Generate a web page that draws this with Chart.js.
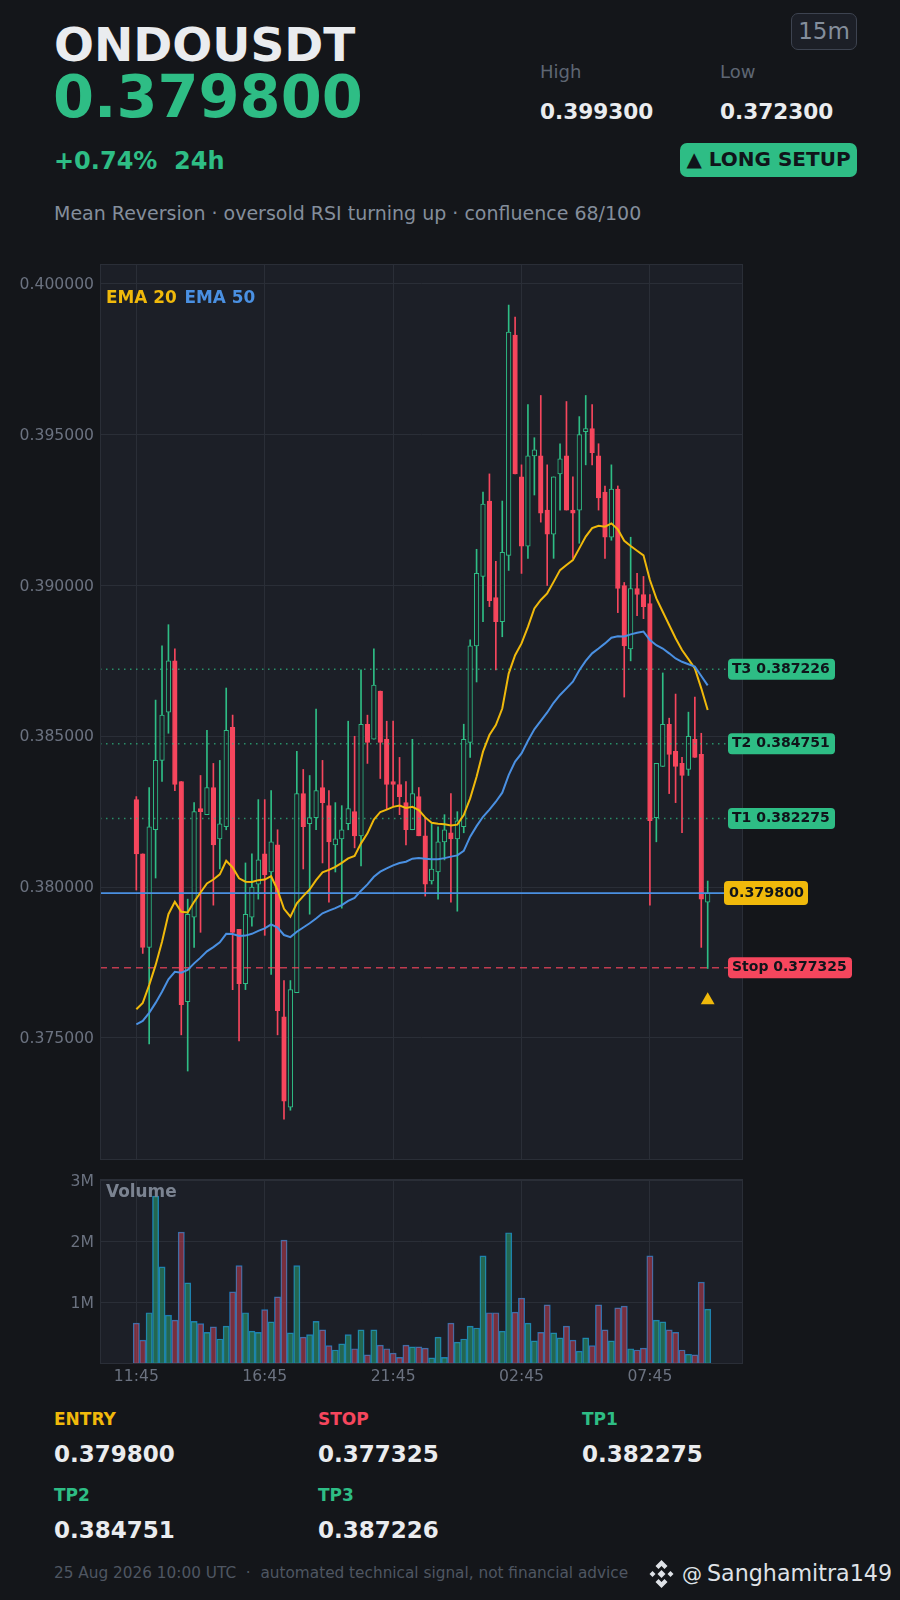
<!DOCTYPE html>
<html>
<head>
<meta charset="utf-8">
<title>ONDOUSDT</title>
<script src="https://cdn.jsdelivr.net/npm/chart.js@4"></script>
<style>
html, body { margin: 0; padding: 0; background: #14161a; }
body { width: 900px; height: 1600px; position: relative; overflow: hidden; font-family: "DejaVu Sans", sans-serif; }
.t { position: absolute; white-space: pre; line-height: 1; }
.b { font-weight: bold; }
canvas { position: absolute; left: 0; }
</style>
</head>
<body>

<div class="t b" style="left:54px;top:21px;font-size:47px;color:#eaecef">ONDOUSDT</div>
<div class="t b" style="left:53px;top:67px;font-size:59px;color:#2ebd85">0.379800</div>
<div class="t" style="left:540px;top:63px;font-size:18px;color:#5e6673">High</div>
<div class="t" style="left:720px;top:63px;font-size:18px;color:#5e6673">Low</div>
<div class="t b" style="left:540px;top:101px;font-size:21.6px;color:#eaecef">0.399300</div>
<div class="t b" style="left:720px;top:101px;font-size:21.6px;color:#eaecef">0.372300</div>
<div class="t b" style="left:54px;top:149px;font-size:24px;color:#2ebd85">+0.74%  24h</div>
<div class="t" style="left:54px;top:204px;font-size:19px;color:#848e9c">Mean Reversion · oversold RSI turning up · confluence 68/100</div>

<div class="t" style="left:791px;top:13px;width:64px;height:35px;line-height:35px;text-align:center;font-size:23px;color:#848e9c;background:#1c1f27;border:1px solid #3d4350;border-radius:7px">15m</div>
<div class="t b" style="left:680px;top:143px;width:177px;height:34px;line-height:32px;text-align:center;font-size:20px;color:#10141a;background:#2ebd85;border-radius:7px">▲ LONG SETUP</div>

<canvas id="priceChart" width="900" height="920" style="top:250px;width:900px;height:920px"></canvas>
<canvas id="volumeChart" width="900" height="230" style="top:1170px;width:900px;height:230px"></canvas>

<div class="t b" style="left:54px;top:1411px;font-size:17px;color:#f0b90b">ENTRY</div>
<div class="t b" style="left:54px;top:1443px;font-size:23px;color:#eaecef">0.379800</div>
<div class="t b" style="left:318px;top:1411px;font-size:17px;color:#f6465d">STOP</div>
<div class="t b" style="left:318px;top:1443px;font-size:23px;color:#eaecef">0.377325</div>
<div class="t b" style="left:582px;top:1411px;font-size:17px;color:#2ebd85">TP1</div>
<div class="t b" style="left:582px;top:1443px;font-size:23px;color:#eaecef">0.382275</div>
<div class="t b" style="left:54px;top:1487px;font-size:17px;color:#2ebd85">TP2</div>
<div class="t b" style="left:54px;top:1519px;font-size:23px;color:#eaecef">0.384751</div>
<div class="t b" style="left:318px;top:1487px;font-size:17px;color:#2ebd85">TP3</div>
<div class="t b" style="left:318px;top:1519px;font-size:23px;color:#eaecef">0.387226</div>

<div class="t" style="left:54px;top:1566px;font-size:15.3px;color:#4f5662">25 Aug 2026 10:00 UTC  ·  automated technical signal, not financial advice</div>
<svg style="position:absolute;left:649px;top:1560px" width="25" height="28" viewBox="0 0 24 28">
  <g fill="#dfe2e7">
    <polygon points="12,0 18,6 15,9 12,6 9,9 6,6"/>
    <polygon points="12,28 18,22 15,19 12,22 9,19 6,22"/>
    <polygon points="3,11 6,14 3,17 0,14"/>
    <polygon points="21,11 24,14 21,17 18,14"/>
    <polygon points="12,10 16,14 12,18 8,14"/>
  </g>
</svg>
<div class="t" style="left:682px;top:1564px;font-size:20px;color:#dfe2e7">@</div>
<div class="t" style="left:707px;top:1562px;font-size:22.2px;color:#dfe2e7">Sanghamitra149</div>

<script>
const opens = [0.3829,0.3811,0.3780,0.3819,0.3842,0.3858,0.3875,0.3835,0.3762,0.3790,
    0.3826,0.3824,0.3833,0.3816,0.3820,0.3853,0.3786,0.3768,0.3790,0.3801,
    0.3811,0.3805,0.3814,0.3757,0.3727,0.3765,0.3831,0.3821,0.3823,0.3833,
    0.3827,0.3814,0.3816,0.3821,0.3825,0.3817,0.3854,0.3849,0.3865,0.3849,
    0.3835,0.3834,0.3828,0.3819,0.3830,0.3817,0.3802,0.3805,0.3815,0.3818,
    0.3816,0.3820,0.3848,0.3880,0.3903,0.3928,0.3896,0.3888,0.3910,0.3983,
    0.3936,0.3913,0.3943,0.3943,0.3925,0.3917,0.3937,0.3943,0.3925,0.3925,
    0.3951,0.3952,0.3943,0.3931,0.3916,0.3932,0.3900,0.3879,0.3899,0.3897,
    0.3894,0.3823,0.3840,0.3854,0.3845,0.3841,0.3839,0.3849,0.3844,0.3795];
const highs = [0.3830,0.3811,0.3833,0.3862,0.3880,0.3887,0.3879,0.3835,0.3796,0.3828,
    0.3837,0.3852,0.3841,0.3842,0.3866,0.3857,0.3786,0.3808,0.3811,0.3829,
    0.3829,0.3832,0.3819,0.3769,0.3769,0.3845,0.3839,0.3837,0.3859,0.3842,
    0.3832,0.3828,0.3827,0.3855,0.3850,0.3872,0.3857,0.3879,0.3865,0.3855,
    0.3855,0.3843,0.3835,0.3849,0.3833,0.3823,0.3821,0.3820,0.3824,0.3831,
    0.3825,0.3854,0.3882,0.3912,0.3931,0.3937,0.3908,0.3928,0.3993,0.3989,
    0.3940,0.3960,0.3949,0.3963,0.3940,0.3936,0.3947,0.3961,0.3936,0.3956,
    0.3963,0.3960,0.3947,0.3933,0.3940,0.3933,0.3901,0.3916,0.3904,0.3903,
    0.3897,0.3841,0.3871,0.3856,0.3864,0.3843,0.3858,0.3863,0.3851,0.3802];
const lows = [0.3799,0.3778,0.3748,0.3803,0.3835,0.3851,0.3832,0.3751,0.3739,0.3780,
    0.3785,0.3824,0.3794,0.3806,0.3819,0.3766,0.3749,0.3766,0.3787,0.3796,
    0.3784,0.3771,0.3751,0.3723,0.3726,0.3765,0.3806,0.3791,0.3819,0.3808,
    0.3795,0.3805,0.3793,0.3819,0.3813,0.3807,0.3841,0.3849,0.3836,0.3826,
    0.3827,0.3824,0.3814,0.3819,0.3817,0.3797,0.3801,0.3796,0.3809,0.3795,
    0.3792,0.3818,0.3843,0.3868,0.3888,0.3893,0.3872,0.3883,0.3905,0.3937,
    0.3904,0.3909,0.3930,0.3921,0.3900,0.3909,0.3925,0.3925,0.3909,0.3914,
    0.3940,0.3940,0.3925,0.3909,0.3915,0.3891,0.3863,0.3875,0.3890,0.3889,
    0.3794,0.3815,0.3840,0.3831,0.3828,0.3818,0.3837,0.3843,0.3780,0.3773];
const closes = [0.3811,0.3780,0.3820,0.3842,0.3857,0.3875,0.3834,0.3761,0.3791,0.3825,
    0.3825,0.3833,0.3814,0.3821,0.3852,0.3785,0.3768,0.3791,0.3800,0.3809,
    0.3804,0.3815,0.3759,0.3729,0.3766,0.3831,0.3820,0.3823,0.3832,0.3828,
    0.3815,0.3816,0.3819,0.3826,0.3817,0.3854,0.3848,0.3867,0.3848,0.3834,
    0.3834,0.3830,0.3819,0.3831,0.3817,0.3801,0.3806,0.3815,0.3819,0.3816,
    0.3822,0.3849,0.3880,0.3904,0.3927,0.3895,0.3888,0.3911,0.3984,0.3937,
    0.3913,0.3943,0.3945,0.3924,0.3917,0.3936,0.3942,0.3925,0.3924,0.3950,
    0.3952,0.3944,0.3929,0.3916,0.3932,0.3899,0.3880,0.3899,0.3897,0.3893,
    0.3822,0.3841,0.3854,0.3844,0.3840,0.3837,0.3850,0.3843,0.3796,0.3798];
const ema20 = [0.37595,0.37616,0.37675,0.37741,0.37819,0.37910,0.37951,0.37918,0.37916,0.37951,
    0.37982,0.38012,0.38025,0.38042,0.38087,0.38065,0.38029,0.38018,0.38017,0.38023,
    0.38025,0.38036,0.37990,0.37928,0.37902,0.37946,0.37970,0.37992,0.38023,0.38049,
    0.38057,0.38067,0.38080,0.38095,0.38103,0.38145,0.38178,0.38224,0.38249,0.38257,
    0.38266,0.38270,0.38262,0.38266,0.38255,0.38231,0.38213,0.38210,0.38208,0.38204,
    0.38207,0.38239,0.38294,0.38366,0.38449,0.38504,0.38537,0.38592,0.38708,0.38769,
    0.38808,0.38863,0.38924,0.38952,0.38974,0.39012,0.39051,0.39068,0.39084,0.39123,
    0.39162,0.39190,0.39198,0.39195,0.39206,0.39186,0.39148,0.39131,0.39115,0.39100,
    0.39018,0.38957,0.38913,0.38869,0.38825,0.38786,0.38756,0.38725,0.38659,0.38587];
const ema50 = [0.37545,0.37556,0.37583,0.37616,0.37653,0.37694,0.37719,0.37716,0.37725,0.37747,
    0.37766,0.37787,0.37801,0.37817,0.37845,0.37844,0.37838,0.37839,0.37845,0.37855,
    0.37863,0.37876,0.37866,0.37841,0.37834,0.37852,0.37866,0.37880,0.37896,0.37913,
    0.37922,0.37930,0.37940,0.37954,0.37964,0.37988,0.38009,0.38034,0.38051,0.38062,
    0.38072,0.38080,0.38084,0.38094,0.38096,0.38094,0.38092,0.38092,0.38096,0.38101,
    0.38105,0.38120,0.38167,0.38202,0.38233,0.38257,0.38283,0.38313,0.38371,0.38416,
    0.38443,0.38485,0.38523,0.38551,0.38579,0.38611,0.38637,0.38659,0.38681,0.38719,
    0.38750,0.38775,0.38791,0.38808,0.38827,0.38832,0.38831,0.38838,0.38843,0.38847,
    0.38819,0.38802,0.38791,0.38775,0.38758,0.38747,0.38739,0.38731,0.38700,0.38669];
const volumes = [0.67,0.39,0.84,2.75,1.59,0.80,0.72,2.16,1.33,0.70,
    0.66,0.52,0.61,0.41,0.62,1.18,1.61,0.84,0.54,0.52,
    0.89,0.69,1.10,2.03,0.51,1.61,0.44,0.48,0.70,0.56,
    0.30,0.23,0.33,0.48,0.25,0.56,0.15,0.56,0.31,0.25,
    0.18,0.11,0.31,0.28,0.28,0.26,0.10,0.44,0.11,0.67,
    0.36,0.41,0.62,0.59,1.77,0.84,0.84,0.54,2.15,0.85,
    1.08,0.67,0.38,0.52,0.97,0.51,0.43,0.62,0.39,0.21,
    0.43,0.30,0.97,0.56,0.38,0.92,0.95,0.25,0.23,0.26,
    1.77,0.72,0.69,0.56,0.52,0.23,0.16,0.15,1.34,0.90];

const timeLabels = ["11:45", "16:45", "21:45", "02:45", "07:45"];
const timeIndex = [0, 20, 40, 60, 80];
const priceTicks = [0.375, 0.38, 0.385, 0.39, 0.395, 0.4];
const volumeTicks = [1, 2, 3];

const entry = 0.3798;
const stop = 0.377325;
const targets = [0.382275, 0.384751, 0.387226];
const targetNames = ["T1", "T2", "T3"];
const signalIndex = 89;
const signalPrice = 0.37625;

const xMin = -5.66;
const xMax = 94.5;

const GREEN = "#2ebd85";
const RED = "#f6465d";
const YELLOW = "#f0b90b";
const BLUE = "#4a90e2";
const GRID = "#2a2e37";
const PANEL = "#1c1f27";
const FONT = '"DejaVu Sans", sans-serif';

const index = opens.map((v, i) => i);
const isUp = i => closes[i] >= opens[i];

function levelLine(value, color, dash, width) {
    return {
        type: "line",
        data: [{ x: xMin, y: value }, { x: xMax, y: value }],
        borderColor: color,
        borderWidth: width,
        borderDash: dash,
        pointRadius: 0,
        order: 3
    };
}

function xAxis(showLabels) {
    return {
        type: "linear",
        min: xMin,
        max: xMax,
        offset: false,
        afterBuildTicks: axis => { axis.ticks = timeIndex.map(v => ({ value: v })); },
        afterFit: axis => {
            axis.height = showLabels ? 36 : 10;
            axis.paddingLeft = 0;
            axis.paddingRight = 0;
        },
        grid: { color: GRID, drawTicks: false, offset: false },
        border: { display: false },
        ticks: {
            display: showLabels,
            color: "#6b7280",
            padding: 4,
            maxRotation: 0,
            font: { family: FONT, size: 15.6 },
            callback: v => timeLabels[timeIndex.indexOf(v)]
        }
    };
}

function yAxis(min, max, values, format) {
    return {
        min: min,
        max: max,
        afterBuildTicks: axis => { axis.ticks = values.map(v => ({ value: v })); },
        afterFit: axis => {
            axis.width = 100;
            axis.paddingTop = 0;
            axis.paddingBottom = 0;
        },
        grid: { color: GRID, drawTicks: false },
        border: { display: false },
        ticks: {
            color: "#6b7280",
            padding: 6,
            labelOffset: 1,
            font: { family: FONT, size: 15.6 },
            callback: format
        }
    };
}

const panelPlugin = {
    id: "panel",
    beforeDraw(chart) {
        const a = chart.chartArea;
        chart.ctx.fillStyle = PANEL;
        chart.ctx.fillRect(a.left, a.top, a.right - a.left, a.bottom - a.top);
    },
    afterDraw(chart) {
        const a = chart.chartArea;
        chart.ctx.strokeStyle = GRID;
        chart.ctx.lineWidth = 1;
        chart.ctx.strokeRect(a.left + 0.5, a.top + 0.5, a.right - a.left - 1, a.bottom - a.top - 1);
    }
};

/* Price pills and EMA key */

const pricePlugin = {
    id: "priceLabels",
    afterDraw(chart) {
        const ctx = chart.ctx;
        const y = chart.scales.y;
        const a = chart.chartArea;

        function pill(text, value, left, right, height, bg, size, inset) {
            const py = y.getPixelForValue(value);
            ctx.fillStyle = bg;
            ctx.beginPath();
            ctx.roundRect(left, py - height / 2, right - left, height, 4);
            ctx.fill();
            ctx.fillStyle = "#10141a";
            ctx.font = "bold " + size + "px " + FONT;
            ctx.textAlign = "left";
            ctx.textBaseline = "middle";
            ctx.fillText(text, left + inset, py);
        }

        targets.forEach((t, i) => {
            pill(targetNames[i] + " " + t.toFixed(6), t, 728, 835, 21, GREEN, 14, 4);
        });
        pill(entry.toFixed(6), entry, 724, 808, 24, YELLOW, 14.3, 5);
        pill("Stop " + stop.toFixed(6), stop, 728, 852, 21, RED, 14, 4);

        ctx.font = "bold 16.9px " + FONT;
        ctx.textAlign = "left";
        ctx.textBaseline = "middle";
        ctx.fillStyle = YELLOW;
        ctx.fillText("EMA 20", a.left + 6, 48.5);
        ctx.fillStyle = BLUE;
        ctx.fillText("EMA 50", a.left + 84.5, 48.5);
    }
};

const volumeLabel = {
    id: "volumeLabel",
    afterDraw(chart) {
        const ctx = chart.ctx;
        ctx.font = "bold 16.9px " + FONT;
        ctx.textAlign = "left";
        ctx.textBaseline = "middle";
        ctx.fillStyle = "#7b8391";
        ctx.fillText("Volume", chart.chartArea.left + 6, 23);
    }
};

new Chart(document.getElementById("priceChart"), {
    type: "bar",
    data: {
        datasets: [
            {
                data: index.map(i => ({ x: i, y: [lows[i], highs[i]] })),
                backgroundColor: index.map(i => isUp(i) ? GREEN : RED),
                barThickness: 1,
                grouped: false,
                order: 6
            },
            {
                data: index.map(i => ({ x: i, y: [opens[i], closes[i]] })),
                backgroundColor: index.map(i => isUp(i) ? PANEL : RED),
                borderColor: index.map(i => isUp(i) ? GREEN : RED),
                borderWidth: 1,
                borderSkipped: false,
                barThickness: 4.6,
                grouped: false,
                order: 5
            },
            ...targets.map(t => levelLine(t, "rgba(46,189,133,0.7)", [1.5, 4.5], 1.5)),
            levelLine(stop, "rgba(246,70,93,0.75)", [7, 5], 1.6),
            levelLine(entry, BLUE, [], 1.8),
            {
                type: "line",
                data: index.map(i => ({ x: i, y: ema20[i] })),
                borderColor: YELLOW,
                borderWidth: 2,
                pointRadius: 0,
                order: 2
            },
            {
                type: "line",
                data: index.map(i => ({ x: i, y: ema50[i] })),
                borderColor: BLUE,
                borderWidth: 2,
                pointRadius: 0,
                order: 1
            },
            {
                type: "line",
                data: [{ x: signalIndex, y: signalPrice }],
                showLine: false,
                pointStyle: "triangle",
                pointRadius: 8,
                pointBackgroundColor: YELLOW,
                pointBorderWidth: 0,
                order: 0
            }
        ]
    },
    options: {
        responsive: false,
        animation: false,
        devicePixelRatio: 1,
        layout: { padding: { top: 14, right: 157, left: 0, bottom: 0 } },
        plugins: { legend: { display: false }, tooltip: { enabled: false } },
        scales: {
            x: xAxis(false),
            y: yAxis(0.37095, 0.40066, priceTicks, v => v.toFixed(6))
        }
    },
    plugins: [panelPlugin, pricePlugin]
});

new Chart(document.getElementById("volumeChart"), {
    type: "bar",
    data: {
        datasets: [{
            data: index.map(i => ({ x: i, y: volumes[i] })),
            backgroundColor: index.map(i => isUp(i) ? "rgba(46,189,133,0.45)" : "rgba(246,70,93,0.42)"),
            borderColor: "#1b76b6",
            borderWidth: 0.8,
            borderSkipped: false,
            barThickness: 6.3
        }]
    },
    options: {
        responsive: false,
        animation: false,
        devicePixelRatio: 1,
        layout: { padding: { top: 9, right: 157, left: 0, bottom: 0 } },
        plugins: { legend: { display: false }, tooltip: { enabled: false } },
        scales: {
            x: xAxis(true),
            y: yAxis(0, 3.03, volumeTicks, v => v + "M")
        }
    },
    plugins: [panelPlugin, volumeLabel]
});
</script>
</body>
</html>
